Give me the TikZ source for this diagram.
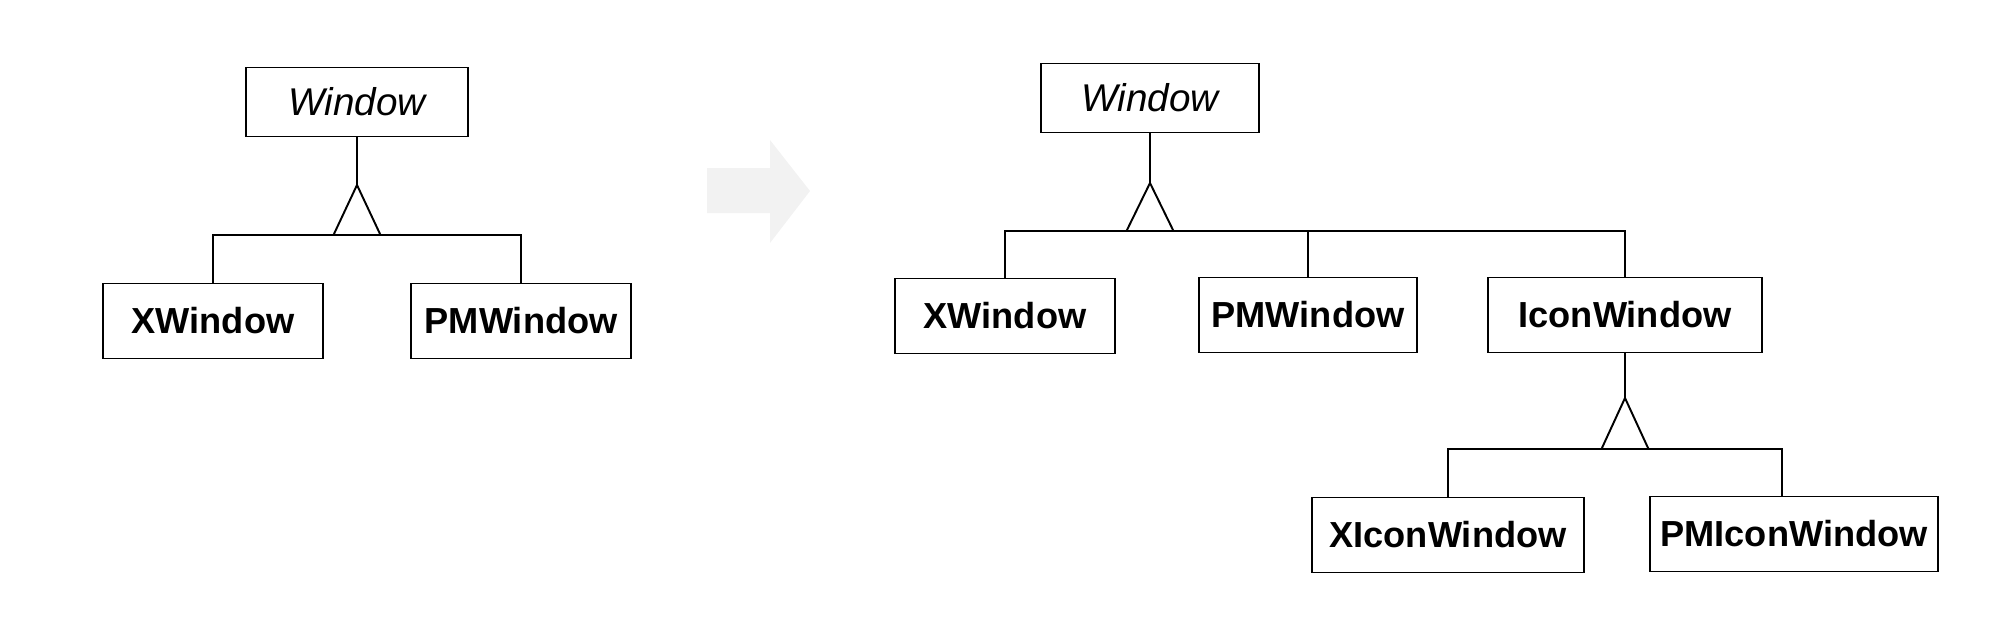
\documentclass[tikz,border=0pt]{standalone}
\usepackage{fontspec}
\setmainfont{Liberation Sans}
\usetikzlibrary{positioning}

\begin{document}
\begin{tikzpicture}[
    x=0.01cm, y=-0.01cm,
    node distance=0.86cm,
    cls/.style={draw, line width=0.55pt, minimum height=0.75cm, inner sep=2pt,
                font=\fontsize{10.3}{12}\selectfont\bfseries},
    abs/.style={cls, minimum height=0.69cm, font=\fontsize{11}{13}\selectfont\itshape},
    tree/.style={line width=0.55pt, line join=miter},
    hint/.style={fill=black!5}
]
\useasboundingbox (0,0) rectangle (2002,618);

% before
\node[abs, minimum width=2.22cm] (win) at (357,102) {Window};
\node[cls, minimum width=2.2cm] (xwin) at (213,321) {XWindow};
\node[cls, minimum width=2.2cm, right=of xwin] (pmwin) {PMWindow};
\coordinate (apex) at (357,185);
\coordinate (base) at (357,235);

\draw[tree] (win) -- (apex);
\draw[tree] (apex) -- ++(-23.5,50) -- ++(47,0) -- cycle;
\draw[tree] (xwin.north) |- (base) -| (pmwin.north);

% the faint arrow between
\fill[hint] (707,168) -- (770,168) -- (770,140) -- (810,191)
    -- (770,243) -- (770,213) -- (707,213) -- cycle;

% after
\node[abs, minimum width=2.17cm] (win2) at (1150,98) {Window};
\node[cls, minimum width=2.2cm] (xwin2) at (1005,316) {XWindow};
\node[cls, minimum width=2.17cm] (pmwin2) at (1308,315) {PMWindow};
\node[cls, minimum width=2.73cm] (icon) at (1625,315) {IconWindow};
\node[cls, minimum width=2.72cm] (xicon) at (1448,535) {XIconWindow};
\node[cls, minimum width=2.88cm] (pmicon) at (1794,534) {PMIconWindow};
\coordinate (apex2) at (1150,183);
\coordinate (base2) at (1150,231);
\coordinate (apex3) at (1625,398);
\coordinate (base3) at (1625,449);

\draw[tree] (win2) -- (apex2);
\draw[tree] (apex2) -- ++(-23.5,48) -- ++(47,0) -- cycle;
\draw[tree] (xwin2.north) |- (base2) -| (icon.north);
\draw[tree] (pmwin2) -- (pmwin2.north |- base2);

\draw[tree] (icon) -- (apex3);
\draw[tree] (apex3) -- ++(-23.5,51) -- ++(47,0) -- cycle;
\draw[tree] (xicon.north) |- (base3) -| ([xshift=-0.12cm]pmicon.north);
\end{tikzpicture}
\end{document}
